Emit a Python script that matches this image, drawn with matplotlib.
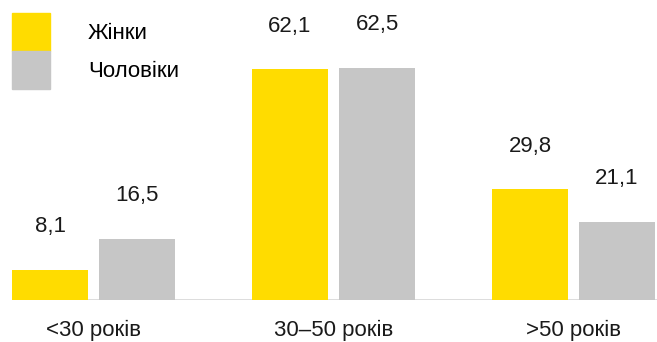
import numpy as np
import matplotlib.pyplot as plt
from matplotlib.patches import Patch

plt.rcParams['font.family'] = ['Liberation Sans', 'DejaVu Sans']

categories = ['<30 років', '30–50 років', '>50 років']
series_names = ['Жінки', 'Чоловіки']
women = [8.1, 62.1, 29.8]
men = [16.5, 62.5, 21.1]
colors = ['#FFDC00', '#C6C6C6']


def fmt(v):
    return f"{v:.1f}".replace('.', ',')


fig = plt.figure(figsize=(6.57, 3.42), dpi=100)
ax = fig.add_axes([0, 42 / 342, 1, 300 / 342])

x = np.arange(len(categories))
width = 0.3167
step = 0.3625

for vals, off, col in [(women, -step / 2, colors[0]), (men, step / 2, colors[1])]:
    bars = ax.bar(x + off, vals, width=width, color=col, zorder=2)
    for b, v in zip(bars, vals):
        ax.annotate(fmt(v), (b.get_x() + b.get_width() / 2, v),
                    xytext=(0, 31), textcoords='offset points',
                    ha='center', va='center', fontsize=16, color='#1a1a1a')

left = -0.3896
ax.set_xlim(left, left + 657 / 240)
ax.set_ylim(0, 80.8)
ax.hlines(0, x[0] - step / 2 - width / 2, left + 657 / 240,
          color='#D9D9D9', lw=2, zorder=1)

for xi, c in zip(x, categories):
    ax.annotate(c, (xi, 0), xytext=(0, -22), textcoords='offset points',
                ha='center', va='center', fontsize=16, color='#1a1a1a',
                annotation_clip=False)

ax.axis('off')

handles = [Patch(color=c) for c in colors]
fig.legend(handles, series_names, loc='upper left',
           bbox_to_anchor=(12 / 657, 1 - 13 / 342), frameon=False,
           fontsize=16, handlelength=1.71, handleheight=2.25,
           labelspacing=0, handletextpad=1.71, borderpad=0, borderaxespad=0)

fig.savefig('out.png', dpi=100)
